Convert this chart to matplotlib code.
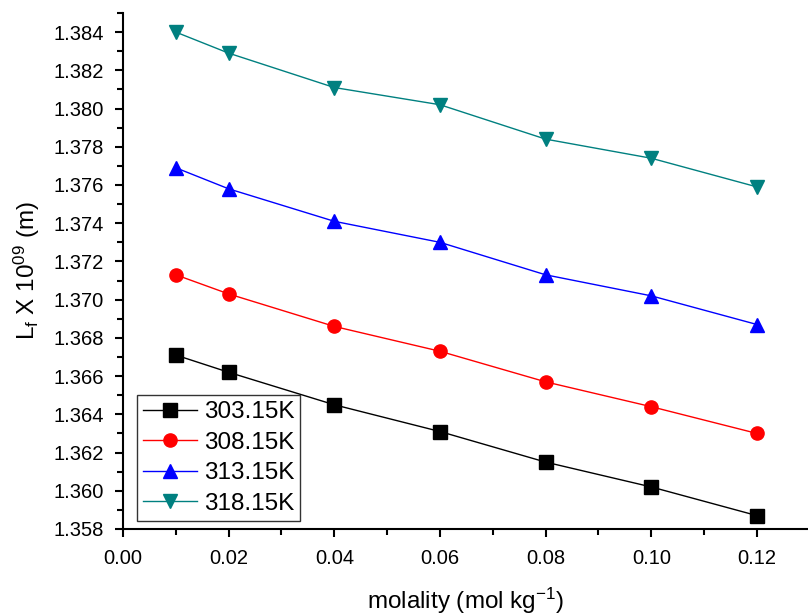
import matplotlib
matplotlib.use("Agg")
import matplotlib.pyplot as plt
from matplotlib.ticker import MultipleLocator, FormatStrFormatter

plt.rcParams['font.family'] = ['Liberation Sans', 'DejaVu Sans']
plt.rcParams['mathtext.fontset'] = 'custom'
plt.rcParams['mathtext.rm'] = 'Liberation Sans'
plt.rcParams['mathtext.it'] = 'Liberation Sans'

molality = [0.01, 0.02, 0.04, 0.06, 0.08, 0.10, 0.12]
s303 = [1.3671, 1.3662, 1.3645, 1.3631, 1.3615, 1.3602, 1.3587]
s308 = [1.3713, 1.3703, 1.3686, 1.3673, 1.3657, 1.3644, 1.3630]
s313 = [1.3769, 1.3758, 1.3741, 1.3730, 1.3713, 1.3702, 1.3687]
s318 = [1.3840, 1.3829, 1.3811, 1.3802, 1.3784, 1.3774, 1.3759]
labels = ['303.15K', '308.15K', '313.15K', '318.15K']

fig = plt.figure(figsize=(8.08, 6.16), dpi=100)
ax = fig.add_axes([123/808, 87/616, 685/808, 516/616])

styles = [('black', 's'), ('red', 'o'), ('blue', '^'), ('#008080', 'v')]
for ys, lab, (c, m) in zip([s303, s308, s313, s318], labels, styles):
    ax.plot(molality, ys, color=c, marker=m, markersize=9.5, linewidth=1,
            label=lab)

ax.set_xlim(0, 0.12966)
ax.set_ylim(1.358, 1.385)
ax.xaxis.set_major_locator(MultipleLocator(0.02))
ax.xaxis.set_minor_locator(MultipleLocator(0.01))
ax.yaxis.set_major_locator(MultipleLocator(0.002))
ax.yaxis.set_minor_locator(MultipleLocator(0.001))
ax.xaxis.set_major_formatter(FormatStrFormatter('%.2f'))
ax.yaxis.set_major_formatter(FormatStrFormatter('%.3f'))
ax.spines['top'].set_visible(False)
ax.spines['right'].set_visible(False)
for sp in ['left', 'bottom']:
    ax.spines[sp].set_linewidth(1.5)
ax.tick_params(which='major', direction='out', length=6, width=1.5, labelsize=14.5)
ax.tick_params(which='minor', direction='out', length=4, width=1.5)
ax.tick_params(axis='x', which='major', pad=8.5)
ax.tick_params(axis='y', which='major', pad=8)

ax.set_xlabel('molality (mol kg$^{-1}$)', fontsize=17.5, labelpad=13)
ax.set_ylabel('L$_f$ X 10$^{09}$ (m)', fontsize=17.5, labelpad=8)

leg = ax.legend(loc='lower left', bbox_to_anchor=(14/685, 8/516), borderaxespad=0,
                fontsize=17.5, frameon=True, fancybox=False, edgecolor='black',
                handlelength=2.2, labelspacing=0.35, borderpad=0.25,
                handletextpad=0.3)
leg.get_frame().set_linewidth(1)

fig.savefig('out.png', dpi=100)
